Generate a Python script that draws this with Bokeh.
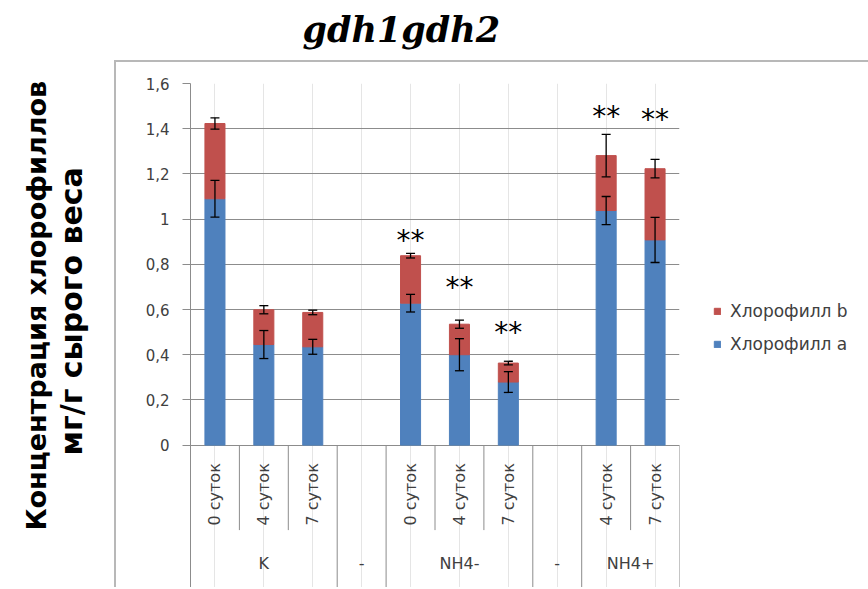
import numpy as np
from bokeh.plotting import figure
from bokeh.models import (ColumnDataSource, FactorRange, Range1d, FixedTicker,
                          CustomJSTickFormatter, Whisker, TeeHead, Legend, LegendItem,
                          Title)
from bokeh.core.properties import value
from bokeh.embed import file_html
from bokeh.resources import INLINE

# ---------------- data ----------------
title_text = "gdh1gdh2"
ylabel_line1 = "Концентрация хлорофиллов"
ylabel_line2 = "мг/г сырого веса"

groups = ["K", "-", "NH4-", "-", "NH4+"]
group_days = [["0 суток", "4 суток", "7 суток"], [],
              ["0 суток", "4 суток", "7 суток"], [],
              ["4 суток", "7 суток"]]

bar_group = ["K", "K", "K", "NH4-", "NH4-", "NH4-", "NH4+", "NH4+"]
bar_day = ["0 суток", "4 суток", "7 суток", "0 суток", "4 суток", "7 суток",
           "4 суток", "7 суток"]
chl_a = [1.090, 0.445, 0.435, 0.628, 0.400, 0.279, 1.038, 0.908]
chl_b = [0.333, 0.154, 0.152, 0.210, 0.135, 0.084, 0.243, 0.315]
err_a = [0.081, 0.062, 0.033, 0.039, 0.071, 0.046, 0.062, 0.100]
err_total = [0.025, 0.018, 0.010, 0.010, 0.018, 0.008, 0.094, 0.041]
sig_mark = ["", "", "", "**", "**", "**", "**", "**"]
sig_level = [None, None, None, 0.926, 0.719, 0.520, 1.476, 1.465]

series_names = ["Хлорофилл a", "Хлорофилл b"]
y_ticks = [0, 0.2, 0.4, 0.6, 0.8, 1.0, 1.2, 1.4, 1.6]

# ---------------- styles ----------------
BLUE = "#4F81BD"
RED = "#C0504D"
GRID = "#8c8c8c"
TXT = "#404040"
BORDER = "#b8b8b8"
FONT = "DejaVu Sans"

keys, key_group = [], []
for gi, g in enumerate(groups):
    days = group_days[gi] if group_days[gi] else ["-"]
    for d in days:
        keys.append(f"{gi}:{d}")
        key_group.append(gi)

bar_x = [f"{groups.index(g)}:{d}" for g, d in zip(bar_group, bar_day)]
a = np.array(chl_a)
b = np.array(chl_b)
tot = a + b
ea = np.array(err_a)
et = np.array(err_total)

src = ColumnDataSource(dict(
    x=bar_x, a=chl_a, b=chl_b,
    ua=list(a + ea), la=list(a - ea), ut=list(tot + et), lt=list(tot - et),
))

table_bottom = -0.63
sub_row_bottom = -0.376

FW, FH = 489, 504
LB, RB, TB = 190, 170, 83

p = figure(frame_width=FW, frame_height=FH, output_backend="svg",
           toolbar_location=None, title=None,
           x_range=FactorRange(factors=keys, range_padding=0, factor_padding=0),
           y_range=Range1d(table_bottom, 1.6),
           x_axis_location=None,
           min_border_left=LB, min_border_right=RB, min_border_top=TB,
           min_border_bottom=0)
p.outline_line_color = None
p.background_fill_color = "white"
p.border_fill_color = None
# light chart-area border (top and left edges) drawn as CSS background lines
p.styles = {
    "background-color": "white",
    "background-image": f"linear-gradient({BORDER},{BORDER}), linear-gradient({BORDER},{BORDER})",
    "background-size": "2px 100%, 100% 2px",
    "background-position": "114px 60px, 114px 60px",
    "background-repeat": "no-repeat",
}

p.yaxis.ticker = FixedTicker(ticks=y_ticks)
p.yaxis.formatter = CustomJSTickFormatter(
    code="return (Math.round(tick*10)/10).toString().replace('.', ',');")
p.yaxis.axis_line_color = GRID
p.yaxis.major_tick_line_color = GRID
p.yaxis.major_tick_out = 8
p.yaxis.major_tick_in = 0
p.yaxis.minor_tick_line_color = None
p.yaxis.major_label_text_font = FONT
p.yaxis.major_label_text_font_size = "15px"
p.yaxis.major_label_text_color = TXT
p.yaxis.major_label_standoff = 13
p.ygrid.ticker = FixedTicker(ticks=y_ticks)
p.ygrid.grid_line_color = GRID

# title (spacer keeps it above the chart area)
p.add_layout(Title(text=" ", text_font_size="1px", standoff=31), "above")
p.add_layout(Title(text=title_text, text_font="DejaVu Serif",
                   text_font_style="bold italic", text_font_size="35px",
                   text_color="black", align="left", offset=112, standoff=0),
             "above")

# y caption, two lines
p.add_layout(Title(text=" ", text_font_size="1px", standoff=51), "left")
p.add_layout(Title(text=ylabel_line2, text_font=FONT, text_font_style="bold",
                   text_font_size="30px", text_color="black", align="left",
                   offset=132, standoff=0, text_line_height=0.95), "left")
p.add_layout(Title(text=ylabel_line1, text_font=FONT, text_font_style="bold",
                   text_font_size="27px", text_color="black", align="left",
                   offset=57, standoff=0), "left")

rs = p.vbar_stack(["a", "b"], x="x", width=0.41, color=[BLUE, RED], source=src)

for up, lo in (("ua", "la"), ("ut", "lt")):
    w = Whisker(base="x", upper=up, lower=lo, source=src, line_color="black",
                line_width=1.3, level="overlay",
                upper_head=TeeHead(size=9, line_color="black", line_width=1.3),
                lower_head=TeeHead(size=9, line_color="black", line_width=1.3))
    p.add_layout(w)

sx = [x for x, m in zip(bar_x, sig_mark) if m]
sy = [y for y, m in zip(sig_level, sig_mark) if m]
st = [m for m in sig_mark if m]
p.text(x=sx, y=sy, text=st, text_font=value(FONT), text_font_size="28px",
       text_align="center", text_baseline="middle", text_color="black",
       y_offset=5)

sub_x = [k for k, kg in zip(keys, key_group) if group_days[kg]]
sub_t = [k.split(":", 1)[1] for k in sub_x]
p.text(x=sub_x, y=[-0.08] * len(sub_x), text=sub_t, angle=np.pi / 2,
       text_align="right", text_baseline="middle", text_font=value(FONT),
       text_font_size="16px", text_color=TXT)

grp_x, grp_t = [], []
for gi, g in enumerate(groups):
    gk = [k for k, kg in zip(keys, key_group) if kg == gi]
    grp_x.append((gk[0], (len(gk) - 1) / 2))
    grp_t.append(g)
p.text(x=grp_x, y=[-0.522] * len(grp_x), text=grp_t, text_align="center",
       text_baseline="middle", text_font=value(FONT), text_font_size="16px",
       text_color=TXT)

seg_x, seg_y1 = [], []
for i, k in enumerate(keys):
    first = i == 0 or key_group[i] != key_group[i - 1]
    seg_x.append((k, -0.5))
    seg_y1.append(table_bottom if first else sub_row_bottom)
seg_x.append((keys[-1], 0.5))
seg_y1.append(table_bottom)
p.segment(x0=seg_x, y0=[0] * len(seg_x), x1=seg_x, y1=seg_y1,
          line_color=GRID, line_width=1)

legend = Legend(items=[LegendItem(label=series_names[1], renderers=[rs[1]]),
                       LegendItem(label=series_names[0], renderers=[rs[0]])],
                location=(34, 233), glyph_width=8, glyph_height=8,
                label_text_font=FONT, label_text_font_size="17px",
                label_text_color=TXT, label_standoff=9, spacing=13,
                label_height=20, margin=28, padding=10,
                border_line_color=None, background_fill_alpha=0)
p.add_layout(legend, "right")

open("out.html", "w").write(file_html(p, INLINE))
